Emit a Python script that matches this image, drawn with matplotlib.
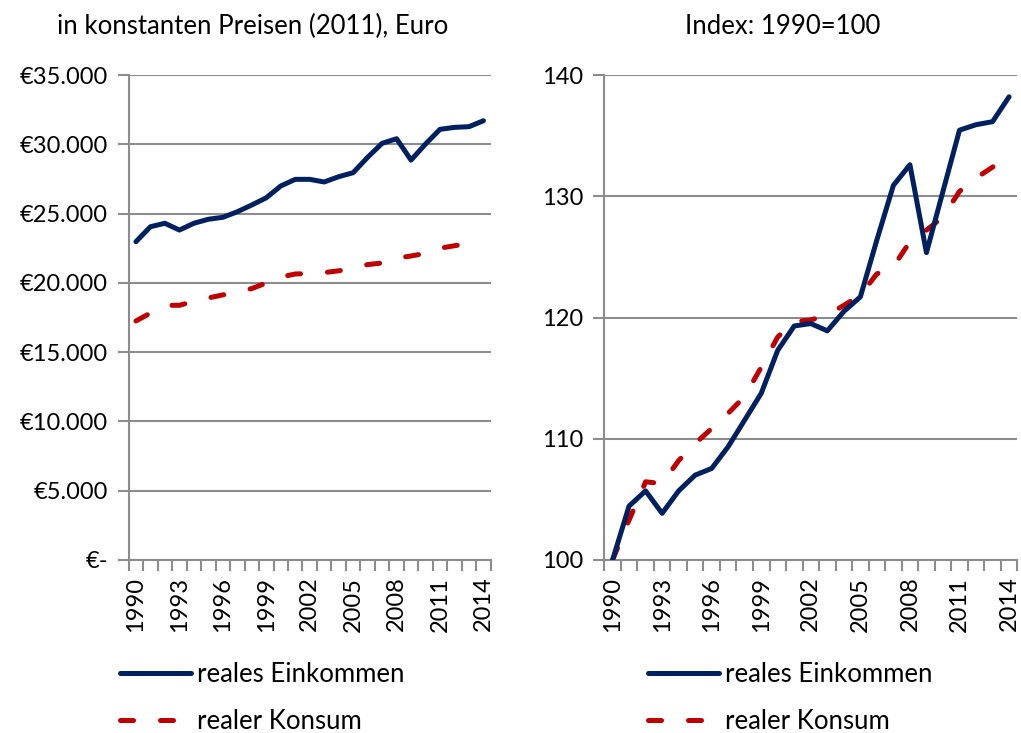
import matplotlib
matplotlib.use("Agg")
from matplotlib import pyplot as plt
from matplotlib.ticker import FixedLocator, FuncFormatter

plt.rcParams['font.family'] = ['Lato', 'DejaVu Sans']

years = list(range(1990, 2015))

# Euro, konstante Preise 2011
einkommen_eur = [22970, 24050, 24300, 23810, 24300, 24590, 24730, 25130, 25620, 26140,
                 26990, 27470, 27470, 27280, 27660, 27950, 29060, 30070, 30400, 28860,
                 30020, 31080, 31220, 31270, 31700]
konsum_eur = [17250, 17820, 18380, 18380, 18670, 18910, 19130, 19340, 19590, 19990,
              20420, 20640, 20670, 20740, 20870, 21030, 21320, 21430, 21780, 21940,
              22130, 22500, 22680, 22840, 23030]

# Index 1990=100
einkommen_idx = [100.0, 104.45, 105.7, 103.85, 105.7, 107.0, 107.55, 109.35, 111.55, 113.75,
                 117.3, 119.3, 119.5, 118.9, 120.5, 121.7, 126.4, 130.9, 132.6, 125.35,
                 130.4, 135.45, 135.9, 136.15, 138.2]
konsum_idx = [100.0, 103.3, 106.45, 106.3, 108.2, 109.6, 110.85, 112.1, 113.5, 115.9,
              118.4, 119.65, 119.8, 120.2, 121.0, 121.85, 123.6, 124.2, 126.25, 127.2,
              128.3, 130.4, 131.5, 132.4, 133.45]

titles = ["in konstanten Preisen (2011), Euro", "Index: 1990=100"]
series_labels = ["reales Einkommen", "realer Konsum"]

NAVY = "#002060"
RED = "#C00000"
GRID = "#8C8C8C"
FS = 18.5
TICK_FS = 17

fig = plt.figure(figsize=(10.21, 7.33), dpi=100)
W, H = 1021, 733


def box(x0, x1, y0, y1):
    return [x0 / W, 1 - y1 / H, (x1 - x0) / W, (y1 - y0) / H]


ax1 = fig.add_axes(box(128.7, 490.7, 75, 560))
ax2 = fig.add_axes(box(604.3, 1017.3, 75, 560))


def euro(v, pos):
    if v == 0:
        return "€-"
    return "€" + f"{int(v):,}".replace(",", ".")


def style(ax, ticks, fmt):
    x = list(range(len(years)))
    ax.set_xlim(-0.5, len(years) - 0.5)
    ax.set_ylim(ticks[0], ticks[-1])
    ax.yaxis.set_major_locator(FixedLocator(ticks))
    ax.yaxis.set_major_formatter(FuncFormatter(fmt))
    ax.xaxis.set_major_locator(FixedLocator(x[::3]))
    ax.set_xticklabels([str(y) for y in years[::3]], rotation=90, fontsize=TICK_FS)
    ax.xaxis.set_minor_locator(FixedLocator([i - 0.5 for i in range(len(years) + 1)]))
    ax.tick_params(axis='x', which='major', length=0, pad=12)
    ax.tick_params(axis='x', which='minor', length=8, width=1.5, color=GRID)
    ax.tick_params(axis='y', length=8, width=1.5, color=GRID, labelsize=TICK_FS, pad=7)
    ax.grid(axis='y', color=GRID, linewidth=1.5)
    ax.set_axisbelow(True)
    for s in ['top', 'right']:
        ax.spines[s].set_visible(False)
    for s in ['left', 'bottom']:
        ax.spines[s].set_color(GRID)
        ax.spines[s].set_linewidth(1.5)


def draw(ax, inc, con):
    x = list(range(len(years)))
    ax.plot(x, inc, color=NAVY, linewidth=3.6, solid_capstyle='round',
            solid_joinstyle='round', label=series_labels[0], zorder=3)
    ax.plot(x, con, color=RED, linewidth=3.6, dashes=(2.6, 5.4),
            dash_capstyle='round', label=series_labels[1], zorder=2)


draw(ax1, einkommen_eur, konsum_eur)
style(ax1, [0, 5000, 10000, 15000, 20000, 25000, 30000, 35000], euro)
draw(ax2, einkommen_idx, konsum_idx)
style(ax2, [100, 110, 120, 130, 140], lambda v, p: f"{int(v)}")

fig.text(253 / W, 1 - 26 / H, titles[0], ha='center', va='center', fontsize=FS)
fig.text(783 / W, 1 - 26 / H, titles[1], ha='center', va='center', fontsize=FS)

for ax, lx in [(ax1, 120 / W), (ax2, 648 / W)]:
    ax.legend(loc='upper left', bbox_to_anchor=(lx, 1 - 662 / H),
              bbox_transform=fig.transFigure, frameon=False, fontsize=FS,
              handlelength=2.75, handletextpad=0.25, labelspacing=0.85,
              borderpad=0, borderaxespad=0)

fig.savefig("out.png", dpi=100)
